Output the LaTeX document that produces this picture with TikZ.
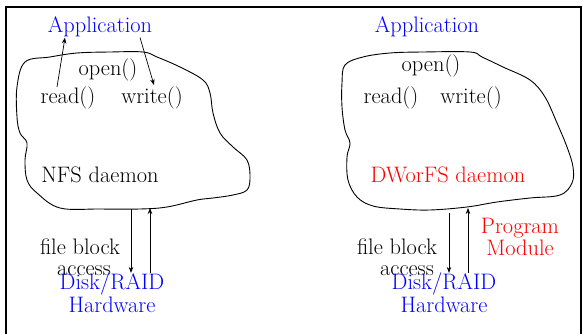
\documentclass[tikz,border=0pt]{standalone}
\usepackage{fontspec}
\usetikzlibrary{arrows.meta,positioning,calc}
\definecolor{appblue}{RGB}{0,0,255}
\definecolor{dworred}{RGB}{255,0,0}

\begin{document}
\begin{tikzpicture}[x=1pt, y=-1pt,
    txt/.style={font=\fontsize{22.4}{18.5}\selectfont, inner sep=0pt,
        anchor=base, align=center},
    arr/.style={-{Stealth[length=6pt,width=4.5pt]}, line width=0.7pt},
    cloudline/.style={line width=0.9pt}
]
    \useasboundingbox (0,0) rectangle (583,334);
    \draw[line width=2.4pt] (6,345) -- (6,7) -- (581,7) -- (581,345);

    % NFS side
    \draw[cloudline] plot[smooth cycle, tension=0.6] coordinates {
        (25,62) (50,57) (77,53) (110,52) (143,52) (157,57) (180,67)
        (203,80) (210,93) (213,113) (220,133) (233,147) (247,160)
        (250,177) (247,190) (233,195) (213,198) (197,200) (167,207)
        (140,209) (100,209) (60,208) (37,193) (27,180) (25,160)
        (27,143) (20,133) (17,117) (17,87)};

    \node[txt, appblue] (appL) at (100,33) {Application};
    \node[txt] (openL) at (108,76) {open()};
    \node[txt] (readL) at (68,104) {read()};
    \node[txt] (writeL) at (152,104) {write()};
    \node[txt] (nfs) at (100,182) {NFS daemon};
    \node[txt] (fileL) at (80,254) {file block};
    \node[txt] (accL) at (84,275) {access};
    \node[txt, appblue] (diskL) at (112,312) {Disk/RAID\\Hardware};

    \coordinate (dnL) at (131,209);
    \coordinate (upL) at (150,208);

    \draw[arr] ([xshift=-11pt]readL.north) -- ([xshift=-35pt]appL.south);
    \draw[arr] ([xshift=40pt]appL.south) -- ([xshift=2pt,yshift=2pt]writeL.north);
    \draw[arr] (dnL) -- (dnL |- diskL.north);
    \draw[arr] (upL |- diskL.north) -- (upL);

    % DWorFS side
    \draw[cloudline] plot[smooth cycle, tension=0.6] coordinates {
        (345,65) (363,57) (390,53) (423,52) (470,52) (482,57) (503,67)
        (530,80) (545,97) (557,123) (567,147) (573,167) (572,183)
        (560,195) (530,198) (497,202) (467,207) (430,210) (400,209)
        (373,206) (357,197) (348,180) (347,157) (350,143) (345,130)
        (342,107) (342,83)};

    \node[txt, appblue] (appR) at (427,33) {Application};
    \node[txt] (openR) at (431,72) {open()};
    \node[txt] (readR) at (391,104) {read()};
    \node[txt] (writeR) at (471,104) {write()};
    \node[txt, dworred] (dworfs) at (448,182) {DWorFS daemon};
    \node[txt] (fileR) at (397,254) {file block};
    \node[txt] (accR) at (407,275) {access};
    \node[txt, dworred] (prog) at (520,255) {Program\\Module};
    \node[txt, appblue] (diskR) at (444,312) {Disk/RAID\\Hardware};

    \coordinate (dnR) at (449,213);
    \coordinate (upR) at (468,208);

    \draw[arr] (dnR) -- (dnR |- diskR.north);
    \draw[arr] (upR |- diskR.north) -- (upR);
\end{tikzpicture}
\end{document}
